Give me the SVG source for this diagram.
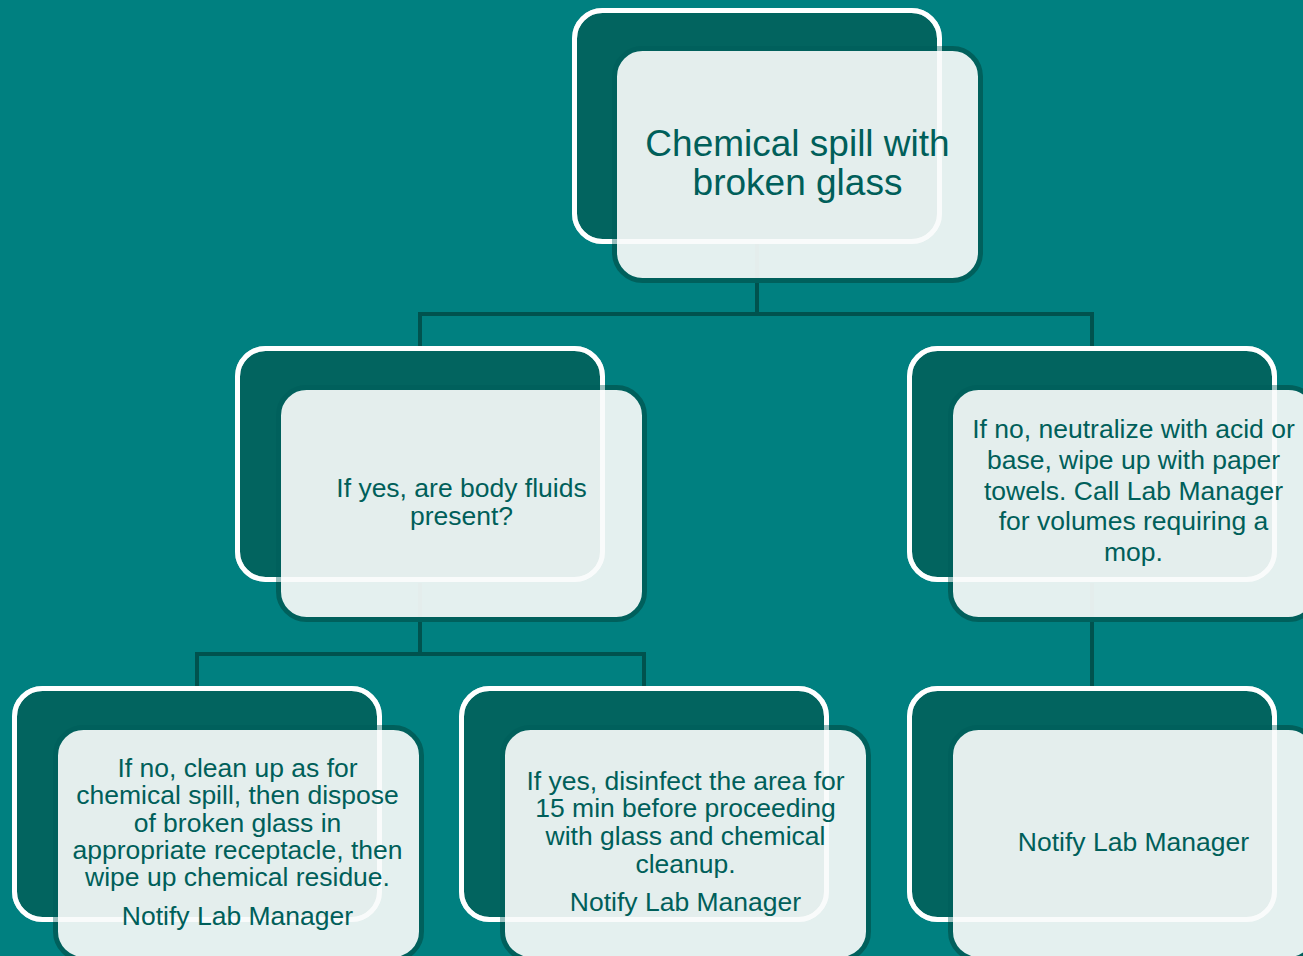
<svg xmlns="http://www.w3.org/2000/svg" width="1303" height="956" viewBox="0 0 1303 956">
<style>
.bg{fill:#008080}
.back{fill:#02645F;stroke:#FFFFFF;stroke-width:5}
.front{fill:#F0F5F4;fill-opacity:0.95;stroke:#00605C;stroke-width:5}
.glow{fill:none;stroke:#FFFFFF;stroke-width:5;stroke-opacity:0.6}
.conn{fill:none;stroke:#00524E;stroke-width:4}
text{font-family:"Liberation Sans",Arial,sans-serif;fill:#005F5A;text-anchor:middle}
.t1{font-size:37px}
.t2{font-size:26.5px}
.t3{font-size:26.5px}
</style>
<rect class="bg" x="0" y="0" width="1303" height="956"/>
<g id="connectors">
<path class="conn" d="M757,244 V314 M420,314 H1093 M420,312 V348 M1092,312 V348"/>
<path class="conn" d="M420,583 V654 M197,654 H646 M197,652 V688 M644,652 V688"/>
<path class="conn" d="M1092,583 V688"/>
</g>
<g id="n_top">
<rect class="back" x="574.5" y="10.5" width="365" height="231" rx="28"/>
<rect class="front" x="614.5" y="48.5" width="366" height="232" rx="28"/>
<rect class="glow" x="574.5" y="10.5" width="365" height="231" rx="28"/>
<text class="t1" x="797.5" y="156">Chemical spill with</text>
<text class="t1" x="797.5" y="195">broken glass</text>
</g>
<g id="n_body_fluids">
<rect class="back" x="237.5" y="348.5" width="365" height="231" rx="28"/>
<rect class="front" x="278.5" y="387.5" width="366" height="232" rx="28"/>
<rect class="glow" x="237.5" y="348.5" width="365" height="231" rx="28"/>
<text class="t2" x="461.5" y="497">If yes, are body fluids</text>
<text class="t2" x="461.5" y="525">present?</text>
</g>
<g id="n_neutralize">
<rect class="back" x="909.5" y="348.5" width="365" height="231" rx="28"/>
<rect class="front" x="950.5" y="387.5" width="366" height="232" rx="28"/>
<rect class="glow" x="909.5" y="348.5" width="365" height="231" rx="28"/>
<text class="t3" x="1133.5" y="438">If no, neutralize with acid or</text>
<text class="t3" x="1133.5" y="469">base, wipe up with paper</text>
<text class="t3" x="1133.5" y="500">towels. Call Lab Manager</text>
<text class="t3" x="1133.5" y="530">for volumes requiring a</text>
<text class="t3" x="1133.5" y="561">mop.</text>
</g>
<g id="n_clean_up">
<rect class="back" x="14.5" y="688.5" width="365" height="231" rx="28"/>
<rect class="front" x="55.5" y="727.5" width="366" height="232" rx="28"/>
<rect class="glow" x="14.5" y="688.5" width="365" height="231" rx="28"/>
<text class="t3" x="237.5" y="777">If no, clean up as for</text>
<text class="t3" x="237.5" y="804">chemical spill, then dispose</text>
<text class="t3" x="237.5" y="832">of broken glass in</text>
<text class="t3" x="237.5" y="859">appropriate receptacle, then</text>
<text class="t3" x="237.5" y="886">wipe up chemical residue.</text>
<text class="t3" x="237.5" y="925">Notify Lab Manager</text>
</g>
<g id="n_disinfect">
<rect class="back" x="461.5" y="688.5" width="365" height="231" rx="28"/>
<rect class="front" x="502.5" y="727.5" width="366" height="232" rx="28"/>
<rect class="glow" x="461.5" y="688.5" width="365" height="231" rx="28"/>
<text class="t3" x="685.5" y="790">If yes, disinfect the area for</text>
<text class="t3" x="685.5" y="817">15 min before proceeding</text>
<text class="t3" x="685.5" y="845">with glass and chemical</text>
<text class="t3" x="685.5" y="873">cleanup.</text>
<text class="t3" x="685.5" y="911">Notify Lab Manager</text>
</g>
<g id="n_notify">
<rect class="back" x="909.5" y="688.5" width="365" height="231" rx="28"/>
<rect class="front" x="950.5" y="727.5" width="366" height="232" rx="28"/>
<rect class="glow" x="909.5" y="688.5" width="365" height="231" rx="28"/>
<text class="t3" x="1133.5" y="851">Notify Lab Manager</text>
</g>
</svg>
